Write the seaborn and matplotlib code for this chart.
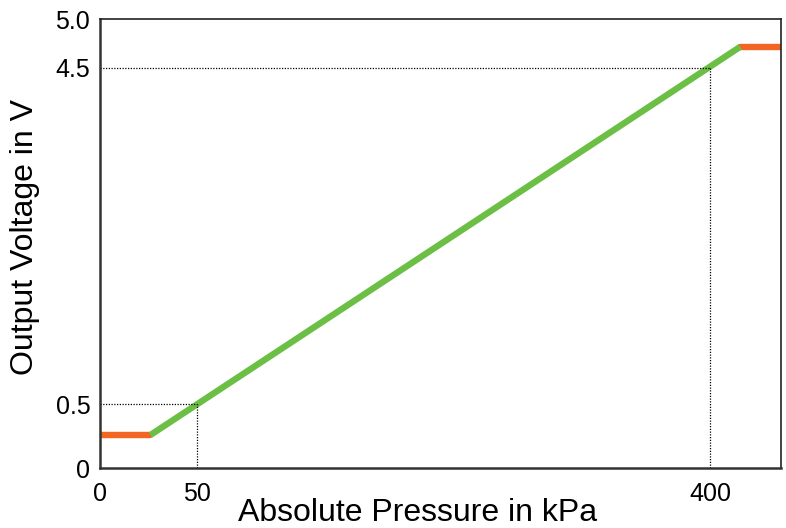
import numpy as np
import pandas as pd
import seaborn as sns
import matplotlib.pyplot as plt

sns.set_style('white')
plt.rcParams['font.family'] = ['Liberation Sans', 'DejaVu Sans']

# values (kPa, V)
low_x = [0, 26]
low_y = [0.258, 0.258]
ramp_x = [26, 420.5]
ramp_y = [0.258, 4.714]
high_x = [420.5, 448]
high_y = [4.714, 4.714]

x_ticks = [0, 50, 400]
y_ticks = [0, 0.5, 4.5, 5.0]
x_ticklabels = ['0', '50', '400']
y_ticklabels = ['0', '0.5', '4.5', '5.0']

# schematic axes: not to scale between the marked values
x_knots = np.array([0, 50, 400, 448])
x_disp = np.array([0, 97, 610, 681])
y_knots = np.array([0, 0.5, 4.5, 5.0])
y_disp = np.array([0, 64, 400.5, 449])


def piecewise(knots, disp):
    def fwd(v):
        return np.interp(v, knots, disp)

    def inv(v):
        return np.interp(v, disp, knots)
    return fwd, inv


fig, ax = plt.subplots(figsize=(7.86, 5.28), dpi=100)
fig.subplots_adjust(left=0.1272, right=0.9936, bottom=0.1136, top=0.964)

ax.set_xscale('function', functions=piecewise(x_knots, x_disp))
ax.set_yscale('function', functions=piecewise(y_knots, y_disp))

orange = '#F26522'
green = '#6BBF44'

sns.lineplot(x=low_x, y=low_y, color=orange, lw=4.6, ax=ax)
sns.lineplot(x=high_x, y=high_y, color=orange, lw=4.6, ax=ax)
sns.lineplot(x=ramp_x, y=ramp_y, color=green, lw=4.6, ax=ax,
             solid_capstyle='butt')

# dotted guides
ax.plot([0, 50], [0.5, 0.5], color='black', lw=0.9, dashes=(1, 1.2))
ax.plot([50, 50], [0, 0.5], color='black', lw=0.9, dashes=(1, 1.2))
ax.plot([0, 400], [4.5, 4.5], color='black', lw=0.9, dashes=(1, 1.2))
ax.plot([400, 400], [0, 4.5], color='black', lw=0.9, dashes=(1, 1.2))

ax.set_xlim(0, 448)
ax.set_ylim(0, 5.0)
ax.set_xticks(x_ticks)
ax.set_xticklabels(x_ticklabels, fontsize=18)
ax.set_yticks(y_ticks)
ax.set_yticklabels(y_ticklabels, fontsize=18)
ax.tick_params(length=0, colors='black')
ax.tick_params(axis='x', pad=10)
ax.tick_params(axis='y', pad=7)

for side in ['top', 'right']:
    ax.spines[side].set_linewidth(1.2)
    ax.spines[side].set_color('#222222')
for side in ['left', 'bottom']:
    ax.spines[side].set_linewidth(1.8)
    ax.spines[side].set_color('#333333')

ax.set_xlabel('Absolute Pressure in kPa', fontsize=23, color='black')
ax.set_ylabel('Output Voltage in V', fontsize=23, color='black')
ax.xaxis.set_label_coords(0.467, -0.066)
ax.yaxis.set_label_coords(-0.088, 0.515)

plt.savefig('out.png', dpi=100)
